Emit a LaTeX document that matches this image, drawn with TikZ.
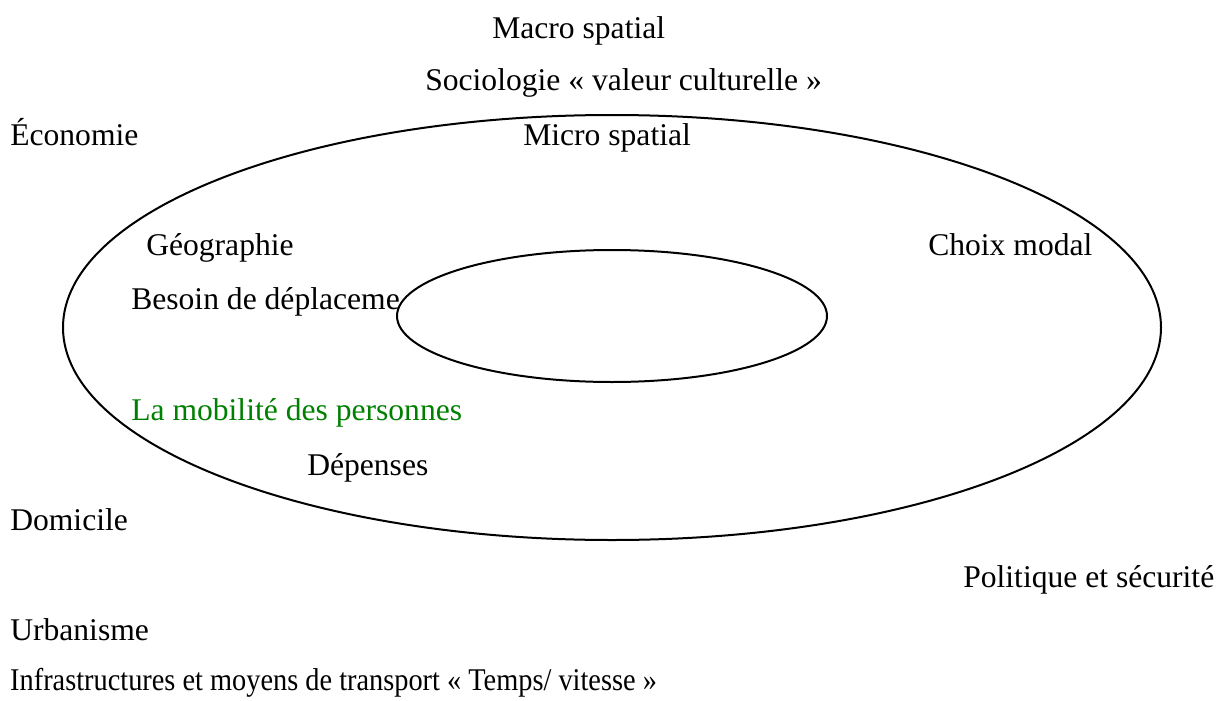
\documentclass[tikz,border=0pt]{standalone}
\usepackage{fontspec}
\setmainfont{Liberation Serif}
\definecolor{mobgreen}{RGB}{0,128,0}
\begin{document}
\begin{tikzpicture}[x=0.75pt, y=-0.75pt,
	lbl/.style={anchor=base west, inner sep=0pt, font=\fontsize{23.7}{28}\selectfont}]
	\useasboundingbox (0,0) rectangle (1221,700); % Rand wie Vorlage
	
	% grosse Ellipse
	\draw[line width=1.5pt] (612,327.5) ellipse [x radius=549, y radius=212.5];
	
	\node[lbl] (macro) at (492,38) {Macro spatial};
	\node[lbl] (socio) at (425,90) {Sociologie « valeur culturelle »};
	\node[lbl] (eco) at (10,145) {Économie};
	\node[lbl] (micro) at (523,145) {Micro spatial};
	\node[lbl] (geo) at (146,255) {Géographie};
	\node[lbl] (choix) at (928,255) {Choix modal};
	\node[lbl] (besoin) at (131,309) {Besoin de déplaceme};
	\node[lbl, mobgreen] (mob) at (131,420) {La mobilité des personnes};
	\node[lbl] (dep) at (307,475) {Dépenses};
	\node[lbl] (dom) at (10,530) {Domicile};
	\node[lbl] (pol) at (963,587) {Politique et sécurité};
	\node[lbl] (urb) at (10,640) {Urbanisme};
	\node[lbl, xscale=0.897] (infra) at (10,690) {Infrastructures et moyens de transport « Temps/ vitesse »};
	
	% kleine Ellipse, weiss gefuellt
	\filldraw[fill=white, line width=1.5pt] (612,316) ellipse [x radius=215, y radius=66];
	
	%\draw[help lines, step=50] (0,0) grid (1221,700);
\end{tikzpicture}
\end{document}
